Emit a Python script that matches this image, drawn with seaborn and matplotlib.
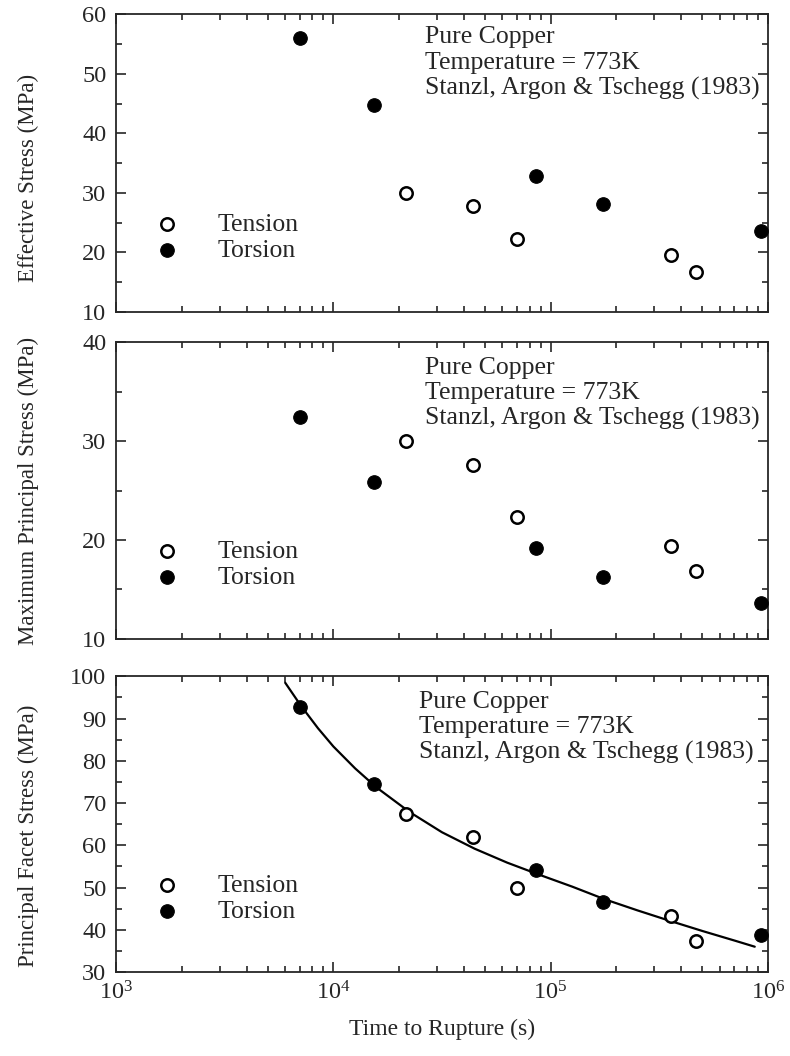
import matplotlib
matplotlib.use("Agg")
import matplotlib.pyplot as plt
import seaborn as sns
import pandas as pd
from matplotlib.ticker import LogLocator, MultipleLocator, NullFormatter

# Données (Stanzl, Argon & Tschegg 1983, cuivre pur, 773 K)
tension_time = [2.15e4, 4.4e4, 7.0e4, 3.6e5, 4.65e5]
torsion_time = [7.0e3, 1.53e4, 8.6e4, 1.75e5, 9.25e5]

tension_eff = [30.0, 27.8, 22.2, 19.5, 16.8]
torsion_eff = [56.0, 44.8, 32.8, 28.1, 23.6]

tension_max = [30.0, 27.6, 22.3, 19.4, 16.9]
torsion_max = [32.4, 25.9, 19.2, 16.3, 13.6]

tension_facet = [67.5, 62.0, 50.0, 43.3, 37.4]
torsion_facet = [92.8, 74.6, 54.2, 46.6, 38.7]

# courbe d'ajustement tracée dans le panneau du bas
fit_time = [6.0e3, 7.1e3, 8.5e3, 1.0e4, 1.26e4, 1.58e4, 2.24e4, 3.16e4, 4.47e4,
            6.31e4, 8.91e4, 1.26e5, 1.78e5, 2.51e5, 3.55e5, 5.01e5, 7.08e5, 8.7e5]
fit_stress = [98.5, 93.0, 87.7, 83.4, 78.2, 73.7, 67.9, 63.1, 59.2,
              55.9, 53.0, 50.2, 47.2, 44.6, 42.1, 39.7, 37.4, 36.0]

ylabels = ['Effective Stress (MPa)', 'Maximum Principal Stress (MPa)',
           'Principal Facet Stress (MPa)']
ylims = [(10, 60), (10, 40), (30, 100)]
ylabel_y = [0.45, 0.5, 0.46]
note_lines = ['Pure Copper', 'Temperature = 773K', 'Stanzl, Argon & Tschegg (1983)']

sns.set_style('ticks')
plt.rcParams['font.family'] = ['Liberation Serif', 'DejaVu Serif']
plt.rcParams['mathtext.fontset'] = 'custom'
plt.rcParams['mathtext.rm'] = 'Liberation Serif'
plt.rcParams['axes.linewidth'] = 1.3

fig = plt.figure(figsize=(7.9, 10.56), dpi=100)
boxes = [[0.147, 0.7045, 0.825, 0.282],
         [0.147, 0.395, 0.825, 0.281],
         [0.147, 0.0795, 0.825, 0.280]]
series = [(tension_eff, torsion_eff), (tension_max, torsion_max),
          (tension_facet, torsion_facet)]

for i, box in enumerate(boxes):
    ax = fig.add_axes(box)
    t_vals, q_vals = series[i]
    df_t = pd.DataFrame({'time': tension_time, 'stress': t_vals})
    df_q = pd.DataFrame({'time': torsion_time, 'stress': q_vals})
    if i == 2:
        df_fit = pd.DataFrame({'time': fit_time, 'stress': fit_stress})
        sns.lineplot(data=df_fit, x='time', y='stress', ax=ax, color='black',
                     linewidth=1.6, sort=True, legend=False)
    sns.scatterplot(data=df_t, x='time', y='stress', ax=ax, marker='o', s=80,
                    facecolor='white', edgecolor='black', linewidth=1.8,
                    label='Tension', clip_on=False, zorder=3)
    sns.scatterplot(data=df_q, x='time', y='stress', ax=ax, marker='o', s=95,
                    color='black', edgecolor='black', linewidth=0.8,
                    label='Torsion', clip_on=False, zorder=3)
    ax.set_xscale('log')
    ax.set_xlim(1e3, 1e6)
    ax.set_ylim(*ylims[i])
    ax.yaxis.set_major_locator(MultipleLocator(10))
    ax.yaxis.set_minor_locator(MultipleLocator(5))
    ax.xaxis.set_major_locator(LogLocator(base=10))
    ax.xaxis.set_minor_locator(LogLocator(base=10, subs=range(2, 10)))
    ax.xaxis.set_minor_formatter(NullFormatter())
    ax.tick_params(which='both', direction='in', top=True, right=True,
                   width=1.2, labelsize=17.5, pad=7)
    ax.tick_params(which='major', length=7)
    ax.tick_params(which='minor', length=4)
    if i < 2:
        ax.tick_params(axis='x', labelbottom=False)
        ax.set_xlabel('')
    else:
        ax.set_xlabel('Time to Rupture (s)', fontsize=17, labelpad=10)
    ax.set_ylabel(ylabels[i], fontsize=16.5)
    ax.yaxis.set_label_coords(-0.118, ylabel_y[i])

    x0 = 0.465 if i == 2 else 0.474
    y0 = 0.913 if i > 0 else 0.922
    for k, line in enumerate(note_lines):
        ax.text(x0, y0 - k * 0.085, line, transform=ax.transAxes,
                fontsize=18.5, va='center', ha='left')

    ax.legend(loc='center left', bbox_to_anchor=(0.063, 0.25), frameon=False,
              fontsize=18.5, handlelength=0.8, handletextpad=1.55,
              labelspacing=0.12, borderpad=0, borderaxespad=0)

fig.savefig('out.png', dpi=100)
